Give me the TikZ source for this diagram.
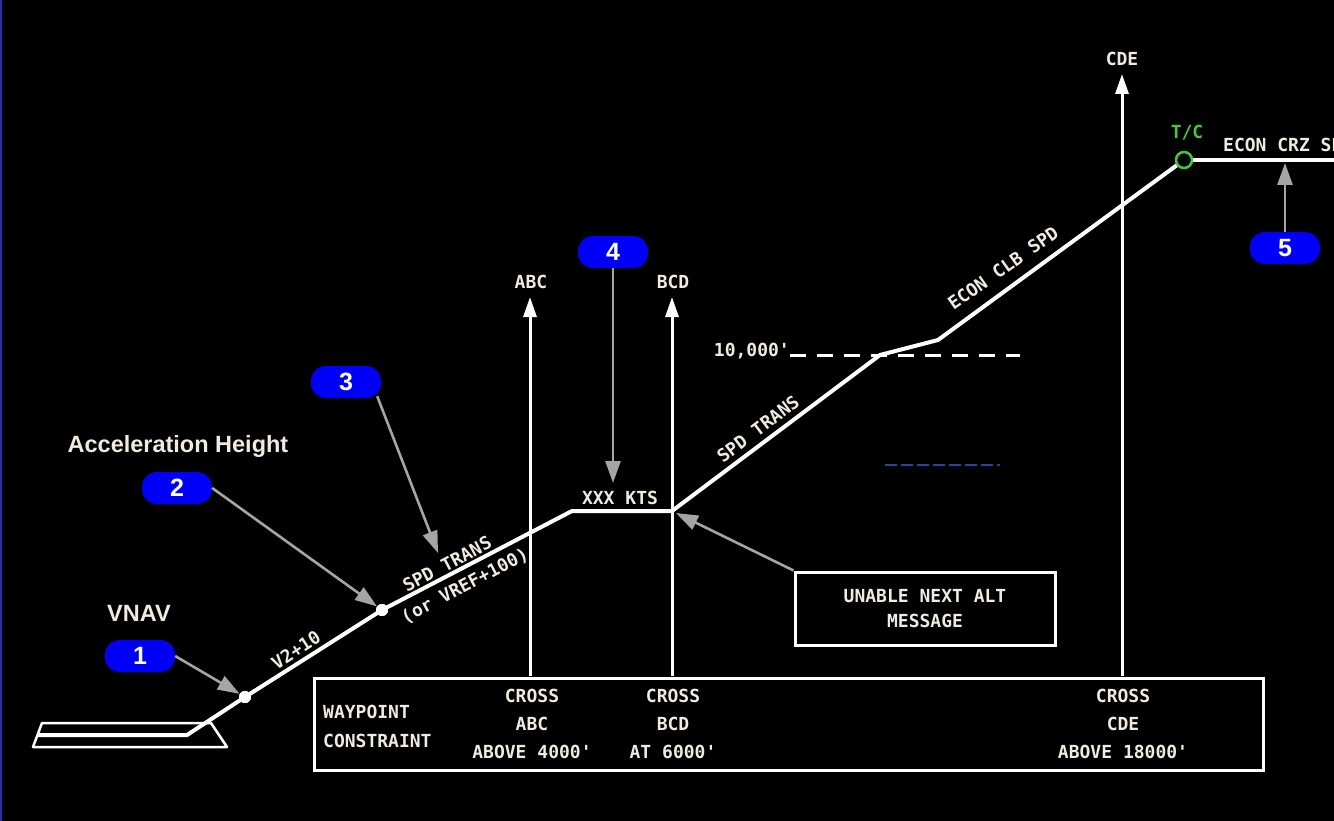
\documentclass[tikz,border=0pt]{standalone}
\usepackage{fontspec}
\setmainfont{Liberation Sans}
\newfontfamily\monof{DejaVu Sans Mono}
\usetikzlibrary{arrows.meta}
\definecolor{txt}{RGB}{240,234,224}
\definecolor{badgeblue}{RGB}{0,0,250}
\definecolor{callgray}{RGB}{165,165,165}
\definecolor{tcgreen}{RGB}{70,200,60}
\definecolor{edgeblue}{RGB}{45,45,165}
\definecolor{faintblue}{RGB}{40,70,150}
\begin{document}
\begin{tikzpicture}[x=1pt,y=-1pt,
  badge/.style={fill=badgeblue, rounded corners=15pt, minimum width=70pt, minimum height=32pt, inner sep=0pt, text=white, font=\fontsize{25}{25}\selectfont\bfseries},
  mono/.style={text=txt, font=\monof\bfseries\fontsize{18}{20}\selectfont, inner sep=0pt},
  boxtext/.style={text=txt, font=\monof\bfseries\fontsize{18}{28}\selectfont, inner sep=0pt, align=center},
  sanslabel/.style={text=txt, font=\bfseries\fontsize{23.5}{24}\selectfont, inner sep=0pt},
  callout/.style={draw=callgray, line width=2.6pt, -{Triangle[length=22pt,width=15pt,fill=callgray]}},
  vert/.style={draw=white, line width=3pt, -{Triangle[length=20pt,width=13pt,fill=white]}},
  profile/.style={draw=white, line width=4pt, line join=round},
  frame/.style={draw=white, line width=3pt},
  dot/.style={circle, fill=white, minimum size=12pt, inner sep=0pt},
]
% background
\fill[black] (0,0) rectangle (1334,821);
\useasboundingbox (0,0) rectangle (1334,821);
\clip (0,0) rectangle (1334,821);
\draw[edgeblue, line width=2.5pt] (1,0) -- (1,821);

% runway
\draw[white, line width=2.5pt, line join=round] (42,723) -- (211,723) -- (227,747) -- (33,747) -- cycle;
\coordinate (r0) at (38,735);
\coordinate (r1) at (187,735);

% profile points
\node[dot] (d1) at (245,697) {};
\node[dot] (d2) at (382,610) {};
\coordinate (p3) at (572,511);
\coordinate (p4) at (672,511);
\coordinate (p5) at (880,355);
\coordinate (p6) at (938,340);
\node[circle, draw=tcgreen, line width=2.5pt, minimum size=16pt, inner sep=0pt] (tc) at (1184,160) {};
\coordinate (crz) at (1340,160);

\draw[profile] (r0) -- (r1) -- (d1.center) -- (d2.center) -- (p3) -- (p4) -- (p5) -- (p6) -- (tc);
\draw[profile] (tc) -- (crz);
\node[dot] at (d1.center) {};
\node[dot] at (d2.center) {};

% 10,000 dashed
\node[mono, anchor=east] (tenk) at (790,351) {10,000'};
\coordinate (dashend) at (1020,355);
\draw[white, line width=3pt, dash pattern=on 16pt off 11pt] (tenk.east |- dashend) -- (dashend);
\draw[faintblue, line width=1.5pt, dash pattern=on 12pt off 4pt] (885,465) -- (1000,465);

% waypoint box
\node[frame, minimum width=949pt, minimum height=92pt, anchor=north west, inner sep=0pt] (wpbox) at (313,677) {};
\node[boxtext, align=left, anchor=west, font=\monof\bfseries\fontsize{18}{29}\selectfont] (wplab) at (323,726) {WAYPOINT\\CONSTRAINT};
\node[boxtext] (cabc) at (532,724) {CROSS\\ABC\\ABOVE 4000'};
\node[boxtext] (cbcd) at (673,724) {CROSS\\BCD\\AT 6000'};
\node[boxtext] (ccde) at (1123,724) {CROSS\\CDE\\ABOVE 18000'};

% vertical waypoint arrows
\node[mono] (abc) at (531,282) {ABC};
\node[mono] (bcd) at (673,282) {BCD};
\node[mono] (cde) at (1122,59) {CDE};
\coordinate (abcb) at (530,676);
\coordinate (bcdb) at (672,676);
\coordinate (cdeb) at (1122,676);
\coordinate (abct) at (530,297);
\coordinate (bcdt) at (672,297);
\coordinate (cdet) at (1122,74);
\draw[vert] (abcb) -- (abct);
\draw[vert] (bcdb) -- (bcdt);
\draw[vert] (cdeb) -- (cdet);

% profile labels
\node[mono, rotate=33] (v2) at (296,650) {V2+10};
\node[mono, rotate=28] (spd1) at (447,564) {SPD TRANS};
\node[mono, rotate=28] (vref) at (465,586) {(or VREF+100)};
\node[mono] (xxx) at (620,498) {XXX KTS};
\node[mono, rotate=37] (spd2) at (758,429) {SPD TRANS};
\node[mono, rotate=35] (eclb) at (1003,268) {ECON CLB SPD};
\node[mono, text=tcgreen] (tcl) at (1187,133) {T/C};
\node[mono, anchor=west] (ecrz) at (1223,145) {ECON CRZ SPD};

% unable box
\node[frame, minimum width=260pt, minimum height=73pt, inner sep=0pt] (unable) at (925,608.5) {};
\node[boxtext, font=\monof\bfseries\fontsize{18}{25}\selectfont] (unablet) at (925,609) {UNABLE NEXT ALT\\MESSAGE};
\coordinate (unablet0) at (676,513);
\draw[callout] (unable.north west) -- (unablet0);

% side labels
\node[sanslabel] (vnav) at (139,613) {VNAV};
\node[sanslabel] (accel) at (178,446) {Acceleration Height};

% badges
\node[badge] (b1) at (140,656) {1};
\node[badge] (b2) at (177,488) {2};
\node[badge] (b3) at (346,382) {3};
\node[badge] (b4) at (613,252) {4};
\node[badge] (b5) at (1285,248) {5};

% callouts
\coordinate (t3) at (438,553);
\coordinate (t4) at (613,483);
\coordinate (t5) at (1285,163);
\draw[callout] (b1.east) -- (d1);
\draw[callout] (b2.east) -- (d2);
\draw[callout] ([xshift=-4pt,yshift=2pt]b3.south east) -- (t3);
\draw[callout] (b4.south) -- (t4);
\draw[callout] (b5.north) -- (t5);
\end{tikzpicture}
\end{document}
